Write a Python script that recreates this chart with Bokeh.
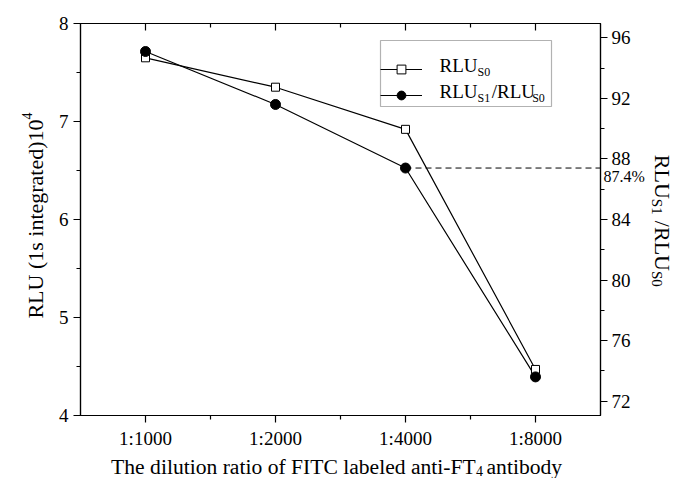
import math
from bokeh.plotting import figure
from bokeh.models import (Range1d, LinearAxis, FixedTicker, Label, Legend, LegendItem,
                          BoxAnnotation)
from bokeh.embed import file_html
from bokeh.resources import INLINE

# ---------------- data ----------------
categories = ["1:1000", "1:2000", "1:4000", "1:8000"]
rlu_s0 = [7.65, 7.35, 6.92, 4.47]        # RLU_S0 (x10^4), left axis
ratio_pct = [95.1, 91.6, 87.4, 73.6]     # RLU_S1/RLU_S0 (%), right axis
marked_pct = 87.4
left_ticks = [4, 5, 6, 7, 8]
left_minor = [4.5, 5.5, 6.5, 7.5]
right_ticks = [72, 76, 80, 84, 88, 92, 96]
right_minor = [74, 78, 82, 86, 90, 94]

xs = [i + 1 for i in range(len(categories))]
x_minor = [x + 0.5 for x in xs[:-1]]

FONT = "Liberation Serif"
NB = "\u00a0"

# frame geometry (pixels)
FL, FT, FR, FB = 80, 23, 600, 415
X0, X1, Y0, Y1 = 0.5, 4.5, 4.0, 8.0


def to_dx(px):
    return X0 + (px - FL) / (FR - FL) * (X1 - X0)


def to_dy(py):
    return Y1 - (py - FT) / (FB - FT) * (Y1 - Y0)


p = figure(width=677, height=478, x_range=Range1d(X0, X1), y_range=Range1d(Y0, Y1),
           output_backend="svg", toolbar_location=None,
           x_axis_type=None, y_axis_type=None,
           min_border_left=FL, min_border_right=677 - FR, min_border_top=FT,
           min_border_bottom=478 - FB)
p.extra_y_ranges = {"pct": Range1d(71.05, 96.95)}
p.xgrid.visible = False
p.ygrid.visible = False
p.outline_line_color = "black"
p.outline_line_width = 1.2
p.background_fill_color = "white"
p.border_fill_color = "white"


def style(ax, inward=False, major=7, minor=4):
    ax.axis_line_color = "black"
    ax.axis_line_width = 1.2
    ax.major_tick_line_color = "black"
    ax.minor_tick_line_color = "black"
    ax.major_tick_line_width = 1.2
    ax.minor_tick_line_width = 1.2
    if inward:
        ax.major_tick_in, ax.major_tick_out = major, 0
        ax.minor_tick_in, ax.minor_tick_out = minor, 0
    else:
        ax.major_tick_in, ax.major_tick_out = 0, major
        ax.minor_tick_in, ax.minor_tick_out = 0, minor
    ax.major_label_text_font = FONT
    ax.major_label_text_font_size = "19px"
    ax.major_label_text_color = "black"
    ax.major_label_standoff = 5


bottom = LinearAxis(ticker=FixedTicker(ticks=xs, minor_ticks=x_minor),
                    major_label_overrides={x: c for x, c in zip(xs, categories)})
style(bottom)
p.add_layout(bottom, "below")

top = LinearAxis(ticker=FixedTicker(ticks=xs, minor_ticks=x_minor),
                 major_label_overrides={x: "" for x in xs})
style(top, inward=True)
top.major_label_text_font_size = "0px"
top.major_label_standoff = 0
p.add_layout(top, "above")

left = LinearAxis(ticker=FixedTicker(ticks=left_ticks, minor_ticks=left_minor))
style(left)
p.add_layout(left, "left")

right = LinearAxis(y_range_name="pct", ticker=FixedTicker(ticks=right_ticks, minor_ticks=right_minor))
style(right)
right.major_label_standoff = 4
p.add_layout(right, "right")

# legend frame (drawn underneath, white with black border)
p.add_layout(BoxAnnotation(left=to_dx(380), right=to_dx(551), top=to_dy(40),
                           bottom=to_dy(106), fill_color="white", fill_alpha=1,
                           line_color="black", line_width=1.2, level="underlay"))

# dashed marker line from the 1:4000 point to the right axis
p.line(x=[xs[2], p.x_range.end], y=[marked_pct, marked_pct], y_range_name="pct",
       line_color="black", line_width=1, line_dash="6 4")

l1 = p.line(xs, rlu_s0, line_color="black", line_width=1.2)
l2 = p.line(xs, ratio_pct, y_range_name="pct", line_color="black", line_width=1.2)
s1 = p.scatter(xs, rlu_s0, marker="square", size=8, fill_color="white",
               line_color="black", line_width=1)
s2 = p.scatter(xs, ratio_pct, y_range_name="pct", marker="circle", size=10,
               fill_color="black", line_color="black")

legend = Legend(items=[LegendItem(label=" ", renderers=[l1, s1]),
                       LegendItem(label=" ", renderers=[l2, s2])],
                location=(300, 309), orientation="vertical",
                glyph_width=42, glyph_height=22, label_height=20, label_width=104,
                label_standoff=5, spacing=4, padding=10, margin=0,
                border_line_color=None, background_fill_alpha=0,
                label_text_font=FONT, label_text_font_size="10px")
p.add_layout(legend, "center")

# ---------------- composed texts (with sub/superscripts) ----------------
EM = {"R": .667, "L": .611, "U": .722, " ": .25, NB: .25, "(": .333, ")": .333,
      "s": .389, "i": .278, "n": .5, "t": .278, "e": .444, "g": .5, "r": .333,
      "a": .444, "d": .5, "T": .611, "h": .5, "l": .278, "u": .5, "o": .5,
      "f": .333, "F": .556, "I": .333, "C": .667, "b": .5, "y": .5, "-": .333,
      "/": .278, "S": .556, "%": .833, ".": .25}


def tw(s, size):
    return sum(EM.get(ch, 0.5) for ch in s) * size


def compose(pieces, x, y, angle=0.0, align="left", data_units=False):
    """Merge pieces of equal (size, shift) into one label each, padded with
    no-break spaces, and return the labels (positions given in canvas pixels)."""
    ax, ay = math.cos(angle), -math.sin(angle)
    ux, uy = -math.sin(angle), -math.cos(angle)
    total = sum(tw(t, s) for t, s, _ in pieces)
    off = -total / 2 if align == "center" else 0.0
    groups = {}
    order = []
    for t, s, dy in pieces:
        key = (s, dy)
        t = t.replace(" ", NB)
        if key not in groups:
            groups[key] = [off, off, ""]
            order.append(key)
        g = groups[key]
        gap = off - g[1]
        if gap > 0:
            n = int(round(gap / tw(NB, s)))
            g[2] += NB * n
            g[1] += n * tw(NB, s)
        g[2] += t
        g[1] += tw(t, s)
        off += tw(t, s)
    labels = []
    for key in order:
        s, dy = key
        start, _, text = groups[key]
        px = x + ax * start + ux * dy
        py = y + ay * start + uy * dy
        if data_units:
            kw = dict(x=to_dx(px), y=to_dy(py), x_units="data", y_units="data",
                      level="overlay")
        else:
            kw = dict(x=px, y=py, x_units="canvas", y_units="canvas", level="overlay")
        labels.append(Label(text=text, angle=angle, text_align="left",
                            text_baseline="alphabetic", text_font=FONT,
                            text_font_size=f"{s}px", text_color="black", **kw))
    return labels


xlab = compose([("The dilution ratio of FITC labeled anti-FT", 21.6, 0), ("4", 14, -4),
                (" antibody", 21.6, 0)], 337, 466, 0.0, "center")
ylab = compose([("RLU (1s integrated)10", 22, 0), ("4", 14, 9)], 35, 215,
               math.pi / 2, "center")
y2lab = compose([("RLU", 22, 0), ("S1", 15, -6), (" /RLU", 22, 0), ("S0", 15, -6)],
                662, 220, -math.pi / 2, "center")
pct = compose([(f"{marked_pct}%", 16, 0)], 603, 176)

# outside-frame texts go into side panels (not clipped to the frame)
p.add_layout(xlab[0], "below")
p.add_layout(xlab[1], "left")
p.add_layout(ylab[0], "left")
p.add_layout(ylab[1], "left")
p.add_layout(y2lab[0], "right")
p.add_layout(y2lab[1], "right")
p.add_layout(pct[0], "above")

# legend texts (inside the frame)
for lab in compose([("RLU", 19, 0), ("S0", 12, -6)], 439, 65, data_units=True):
    p.add_layout(lab, "center")
for lab in compose([("RLU", 19, 0), ("S1", 12, -6), ("/RLU", 19, 0), ("S0", 12, -6)],
                   439, 91, data_units=True):
    p.add_layout(lab, "center")

open("out.html", "w").write(file_html(p, INLINE))
